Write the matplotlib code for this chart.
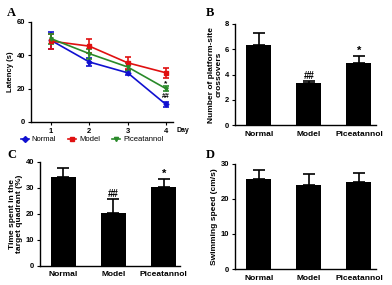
import matplotlib
matplotlib.use("Agg")
import matplotlib.pyplot as plt
from matplotlib.lines import Line2D
import numpy as np

plt.rcParams['font.family'] = ['Liberation Sans', 'DejaVu Sans']
plt.rcParams['font.weight'] = 'bold'

days = [1, 2, 3, 4]
normal_lat = [49, 36, 29.5, 10.5]
normal_err = [5, 2.5, 1.5, 1.5]
model_lat = [48.5, 45.5, 35.5, 29.5]
model_err = [4.5, 4, 3.5, 3]
pice_lat = [50, 41, 33, 20]
pice_err = [3, 3, 2.5, 1.5]

groups = ["Normal", "Model", "Piceatannol"]
cross_vals = [6.35, 3.35, 4.95]
cross_err = [0.9, 0.1, 0.55]
time_vals = [34.3, 20.5, 30.3]
time_err = [3.5, 5.2, 3.3]
speed_vals = [25.8, 24.0, 24.7]
speed_err = [2.5, 3.0, 2.6]

fig = plt.figure(figsize=(3.92, 2.85), dpi=100)

def style(ax):
    for s in ['top', 'right']:
        ax.spines[s].set_visible(False)
    ax.spines['left'].set_linewidth(1.0)
    ax.spines['bottom'].set_linewidth(1.0)
    ax.tick_params(axis='both', labelsize=5.5, width=0.8, length=2.5, pad=1.5)
    for lab in ax.get_xticklabels() + ax.get_yticklabels():
        lab.set_fontweight('bold')

# Panel A
axA = fig.add_axes([0.079, 0.572, 0.362, 0.351])
series = [(normal_lat, normal_err, '#1010d0', 'D', 'Normal'),
          (model_lat, model_err, '#e01010', 's', 'Model'),
          (pice_lat, pice_err, '#2a8a2a', 'v', 'Piceatannol')]
handles = []
for vals, err, c, m, lab in series:
    axA.errorbar(days, vals, yerr=err, color=c, marker=m, markersize=2.5,
                 lw=1.2, capsize=2, elinewidth=1.2, capthick=1.2)
    handles.append(Line2D([], [], color=c, marker=m, markersize=3, lw=1.2, label=lab))
axA.set_xlim(0.48, 4.18)
axA.set_ylim(0, 60)
axA.set_yticks([0, 20, 40, 60])
axA.set_xticks(days)
axA.set_ylabel('Latency (s)', fontsize=5.5, fontweight='bold', labelpad=2)
style(axA)
axA.text(4.45, -5, 'Day', fontsize=5, fontweight='bold', ha='center', va='center',
         clip_on=False)
axA.text(4, normal_lat[3] + normal_err[3] + 3, '##', fontsize=5, ha='center',
         va='center', fontweight='bold')
axA.text(4, pice_lat[3] + pice_err[3] + 1.5, '*', fontsize=6, ha='center',
         va='center', fontweight='bold')
leg = fig.legend(handles=handles, loc='center', bbox_to_anchor=(0.235, 0.51), ncol=3,
                 frameon=False, fontsize=5.5, handlelength=1.0, handletextpad=0.4,
                 columnspacing=1.6)
for t in leg.get_texts():
    t.set_fontweight('normal')

def bar_panel(rect, vals, err, ylim, yticks, ylabel, annots, xlim):
    ax = fig.add_axes(rect)
    x = np.arange(len(groups))
    ax.bar(x, vals, width=0.5, color='black')
    ax.errorbar(x, vals, yerr=[np.zeros(len(err)), err], fmt='none', ecolor='black',
                capsize=4, elinewidth=1.2, capthick=1.2)
    ax.set_xlim(*xlim)
    ax.set_ylim(*ylim)
    ax.set_yticks(yticks)
    ax.set_xticks(x)
    ax.set_xticklabels(groups)
    ax.set_ylabel(ylabel, fontsize=6, fontweight='bold', labelpad=2, linespacing=1.0)
    style(ax)
    ax.tick_params(axis='x', length=0, labelsize=6, pad=4)
    ax.set_xticks([1], minor=True)
    ax.tick_params(axis='x', which='minor', length=2.5, width=0.8)
    for lab in ax.get_xticklabels():
        lab.set_fontweight('bold')
    for i, s in annots:
        ax.text(i, vals[i] + err[i], s, ha='center', va='bottom',
                fontsize=8 if s == '*' else 7, fontweight='bold')
    return ax

bar_panel([0.599, 0.561, 0.36, 0.355], cross_vals, cross_err, (0, 8), [0, 2, 4, 6, 8],
          'Number of platform-site\ncrossovers', [(1, '##'), (2, '*')], (-0.48, 2.34))
bar_panel([0.102, 0.067, 0.357, 0.365], time_vals, time_err, (0, 40), [0, 10, 20, 30, 40],
          'Time spent in the\ntarget quadrant (%)', [(1, '##'), (2, '*')], (-0.46, 2.32))
bar_panel([0.599, 0.056, 0.36, 0.369], speed_vals, speed_err, (0, 30), [0, 10, 20, 30],
          'Swimming speed (cm/s)', [], (-0.48, 2.34))

for lbl, x, y in [('A', 0.018, 0.955), ('B', 0.525, 0.955), ('C', 0.018, 0.455), ('D', 0.525, 0.455)]:
    fig.text(x, y, lbl, fontsize=9, fontweight='bold', family=['Liberation Serif', 'DejaVu Serif'],
             ha='left', va='center')

fig.savefig('out.png', dpi=100)
